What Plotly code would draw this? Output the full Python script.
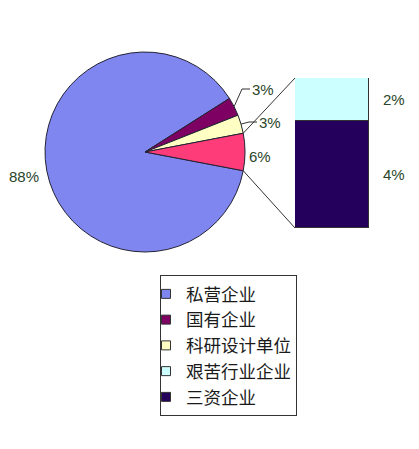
import numpy as np
import plotly.graph_objects as go

W, H = 419, 449
BODY = 8  # marge par défaut du <body> de la page HTML

# données
pie_labels = ["私营企业", "国有企业", "科研设计单位", "其他"]
pie_values = [88, 3, 3, 6]
pie_colors = ["#8086F0", "#7D0062", "#FFFFC4", "#FF3C7A"]

bar_labels = ["三资企业", "艰苦行业企业"]
bar_values = [4.3, 1.7]
bar_colors = ["#24005C", "#CCFFFF"]

legend_order = ["私营企业", "国有企业", "科研设计单位", "艰苦行业企业", "三资企业"]

TEXT_COLOR = "#2A452A"
LINE_COLOR = "#222233"
NUM_FONT = dict(family="Liberation Sans, Arial, sans-serif", size=15, color=TEXT_COLOR)

# géométrie en pixels de la fenêtre
PIE_CX, PIE_CY, PIE_R = 145, 152, 100
BAR_X0, BAR_X1, BAR_Y0, BAR_Y1 = 295, 369, 78, 228

FW, FH = W - 2 * BODY, H - 2 * BODY


def px(x):
    return (x - BODY) / FW


def py(y):
    return 1 - (y - BODY) / FH


total = sum(pie_values)
rotation = 90 + pie_values[-1] / total * 180  # la part "autre" centrée à droite

# angles (depuis midi, sens horaire) de chaque part
edges = rotation + np.concatenate([[0], np.cumsum(pie_values)]) / total * 360


def pie_point(theta_deg, r=PIE_R):
    t = np.radians(theta_deg)
    return PIE_CX + r * np.sin(t), PIE_CY - r * np.cos(t)


fig = go.Figure()

fig.add_trace(
    go.Pie(
        labels=pie_labels,
        values=pie_values,
        sort=False,
        direction="clockwise",
        rotation=rotation,
        marker=dict(colors=pie_colors, line=dict(color=LINE_COLOR, width=1)),
        textinfo="none",
        hoverinfo="label+percent",
        showlegend=False,
        domain=dict(
            x=[px(PIE_CX - PIE_R), px(PIE_CX + PIE_R)],
            y=[py(PIE_CY + PIE_R), py(PIE_CY - PIE_R)],
        ),
    )
)

bar_total = sum(bar_values)
for lab, val, col in zip(bar_labels, bar_values, bar_colors):
    fig.add_trace(
        go.Bar(
            x=[0],
            y=[val],
            name=lab,
            marker=dict(color=col, line=dict(color="#333333", width=1)),
            showlegend=False,
            hovertemplate=lab + ": %{y}%<extra></extra>",
        )
    )

# entrées de légende
color_of = dict(zip(pie_labels + bar_labels, pie_colors + bar_colors))
for lab in legend_order:
    fig.add_trace(
        go.Scatter(
            x=[None],
            y=[None],
            mode="markers",
            name=lab,
            marker=dict(symbol="square", size=9, color=color_of[lab], line=dict(color="#333333", width=1)),
        )
    )

shapes = []
# lignes de liaison part "autre" -> barre
p_top = pie_point(edges[-2])
p_bot = pie_point(edges[-1])
for (x0, y0), (x1, y1) in [(p_top, (BAR_X0, BAR_Y0)), (p_bot, (BAR_X0, BAR_Y1))]:
    shapes.append(
        dict(type="line", xref="paper", yref="paper", x0=px(x0), y0=py(y0), x1=px(x1), y1=py(y1),
             line=dict(color="#333333", width=1))
    )

annotations = []
# étiquettes des petites parts avec traits de rappel
small_labels = [(1, 250, 89), (2, 257, 122)]
for idx, lx, ly in small_labels:
    sx, sy = pie_point((edges[idx] + edges[idx + 1]) / 2)
    path = f"M {px(sx)} {py(sy)} L {px(lx - 8)} {py(ly)} L {px(lx)} {py(ly)}"
    shapes.append(dict(type="path", xref="paper", yref="paper", path=path,
                       line=dict(color="#333333", width=1)))
    annotations.append(dict(x=px(lx), y=py(ly), xref="paper", yref="paper", text=f"{pie_values[idx]:.0f}%",
                            showarrow=False, xanchor="left", yanchor="middle", font=NUM_FONT))

annotations.append(dict(x=px(41), y=py(177), xref="paper", yref="paper", text=f"{pie_values[0]:.0f}%",
                        showarrow=False, xanchor="right", yanchor="middle", font=NUM_FONT))
annotations.append(dict(x=px(247), y=py(156), xref="paper", yref="paper", text=f"{pie_values[3]:.0f}%",
                        showarrow=False, xanchor="left", yanchor="middle", font=NUM_FONT))

# étiquettes de la barre
cum = np.concatenate([[0], np.cumsum(bar_values)])
for i, val in enumerate(bar_values):
    annotations.append(dict(x=px(381), y=(cum[i] + cum[i + 1]) / 2, xref="paper", yref="y",
                            text=f"{val:.0f}%", showarrow=False, xanchor="left", yanchor="middle",
                            font=NUM_FONT))

fig.update_layout(
    width=FW,
    height=FH,
    margin=dict(l=0, r=0, t=0, b=0),
    paper_bgcolor="#FFFFFF",
    plot_bgcolor="#FFFFFF",
    barmode="stack",
    bargap=0,
    xaxis=dict(domain=[px(BAR_X0), px(BAR_X1)], range=[-0.5, 0.5], visible=False, fixedrange=True),
    yaxis=dict(domain=[py(BAR_Y1), py(BAR_Y0)], range=[0, bar_total], visible=False, fixedrange=True),
    shapes=shapes,
    annotations=annotations,
    legend=dict(
        x=px(160),
        y=py(275),
        xanchor="left",
        yanchor="top",
        bgcolor="#FFFFFF",
        bordercolor="#333333",
        borderwidth=1,
        font=dict(family="Noto Sans CJK SC, sans-serif", size=17.5, color="#1A1A1A"),
        traceorder="normal",
        indentation=-15,
        tracegroupgap=0,
        itemclick=False,
        itemdoubleclick=False,
    ),
    showlegend=True,
)

fig.write_html("out.html")
